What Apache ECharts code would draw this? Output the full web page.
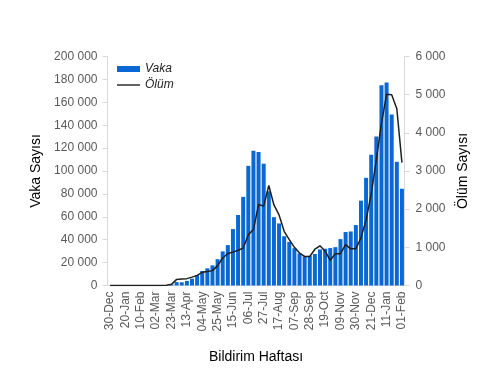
<!DOCTYPE html>
<html>
<head>
<meta charset="utf-8">
<script src="https://cdn.jsdelivr.net/npm/echarts@6/dist/echarts.min.js"></script>
<style>
html,body{margin:0;padding:0;background:#fff;}
#c{width:499px;height:390px;}
</style>
</head>
<body>
<div id="c"></div>
<script>
const weeks = ['30-Dec','06-Jan','13-Jan','20-Jan','27-Jan','03-Feb','10-Feb','17-Feb','24-Feb','02-Mar','09-Mar','16-Mar','23-Mar','30-Mar','06-Apr','13-Apr','20-Apr','27-Apr','04-May','11-May','18-May','25-May','01-Jun','08-Jun','15-Jun','22-Jun','29-Jun','06-Jul','13-Jul','20-Jul','27-Jul','03-Aug','10-Aug','17-Aug','24-Aug','31-Aug','07-Sep','14-Sep','21-Sep','28-Sep','05-Oct','12-Oct','19-Oct','26-Oct','02-Nov','09-Nov','16-Nov','23-Nov','30-Nov','07-Dec','14-Dec','21-Dec','28-Dec','04-Jan','11-Jan','18-Jan','25-Jan','01-Feb'];
const cases = [0,0,0,0,0,0,0,0,0,10,60,300,800,3000,2800,4000,6000,9000,12700,15000,17600,23000,29800,35300,49300,61600,77400,104500,117600,116600,106400,82300,59700,54200,43000,38100,32600,28000,25500,25900,27500,31500,32100,32700,33500,40500,46700,47200,52800,74100,94000,114300,130100,175000,177300,149400,108000,84500];
const deaths = [0,0,0,0,0,0,0,0,0,0,0,5,30,160,170,180,220,265,345,365,390,520,720,840,875,925,980,1330,1470,2120,2080,2620,2110,1850,1420,1200,1000,850,760,760,950,1040,900,660,835,835,1070,960,960,1250,1720,2400,3300,4250,5010,5000,4630,3220];
const leftTicks = {min:0, max:200000, interval:20000};
const rightTicks = {min:0, max:6000, interval:1000};
const names = {cases:'Vaka', deaths:'Ölüm', x:'Bildirim Haftası', yl:'Vaka Sayısı', yr:'Ölüm Sayısı'};

const fmt = v => String(v).replace(/\B(?=(\d{3})+(?!\d))/g, ' ');
const FONT = 'Liberation Sans, Arial, sans-serif';
const grey = '#595959';
const axisGrey = '#d9d9d9';

const chart = echarts.init(document.getElementById('c'), null, {renderer:'canvas'});
chart.setOption({
  animation:false,
  textStyle:{fontFamily:FONT},
  grid:{left:107.5, right:94.5, top:56.5, bottom:104.5, containLabel:false},
  legend:{
    orient:'vertical', left:112, top:58, itemWidth:23, itemHeight:6, itemGap:4,
    textStyle:{fontStyle:'italic', fontSize:12, color:'#222', fontFamily:FONT},
    data:[{name:names.cases, icon:'rect'},{name:names.deaths, icon:'path://M0,0H23V1.4H0Z'}]
  },
  xAxis:{
    type:'category', data:weeks, boundaryGap:true,
    name:names.x, nameLocation:'middle', nameGap:65,
    nameTextStyle:{fontSize:14, color:'#000', fontFamily:FONT},
    axisLine:{lineStyle:{color:axisGrey}},
    axisTick:{interval:0, length:4, lineStyle:{color:axisGrey}},
    axisLabel:{interval:2, rotate:90, fontSize:12, color:grey, margin:6}
  },
  yAxis:[
    {type:'value', min:leftTicks.min, max:leftTicks.max, interval:leftTicks.interval,
     name:names.yl, nameLocation:'middle', nameGap:51, nameRotate:90,
     nameTextStyle:{fontSize:14, color:'#000', fontFamily:FONT},
     axisLine:{show:true, lineStyle:{color:axisGrey}},
     axisTick:{show:true, length:5, lineStyle:{color:axisGrey}},
     splitLine:{show:false},
     axisLabel:{formatter:fmt, fontSize:12, color:grey, margin:10}},
    {type:'value', position:'right', min:rightTicks.min, max:rightTicks.max, interval:rightTicks.interval,
     name:names.yr, nameLocation:'middle', nameGap:52, nameRotate:90,
     nameTextStyle:{fontSize:14, color:'#000', fontFamily:FONT},
     axisLine:{show:true, lineStyle:{color:axisGrey}},
     axisTick:{show:true, length:5, lineStyle:{color:axisGrey}},
     splitLine:{show:false},
     axisLabel:{formatter:fmt, fontSize:12, color:grey, margin:11}}
  ],
  series:[
    {name:names.cases, type:'bar', data:cases, yAxisIndex:0, barCategoryGap:'22%',
     itemStyle:{color:'#0a68d4'}},
    {name:names.deaths, type:'line', data:deaths, yAxisIndex:1, symbol:'none',
     lineStyle:{color:'#1f1f1f', width:1.5}, itemStyle:{color:'#1f1f1f'}}
  ]
});
</script>
</body>
</html>
